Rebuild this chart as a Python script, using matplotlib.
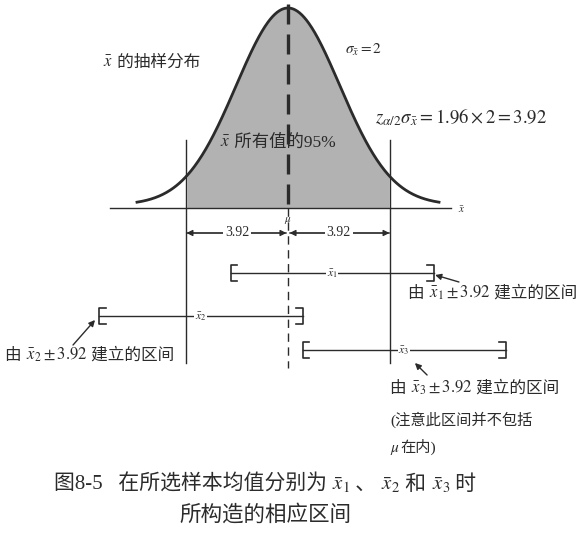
import numpy as np
import matplotlib
matplotlib.use('Agg')
import matplotlib.pyplot as plt
from matplotlib.offsetbox import TextArea, HPacker, AnnotationBbox

FAMILY = ['Liberation Serif', 'Noto Sans CJK SC', 'DejaVu Sans']
plt.rcParams['font.family'] = FAMILY
plt.rcParams['mathtext.fontset'] = 'stix'

# data
mu = 0.0
sigma_xbar = 2.0
z_half = 1.96
margin = z_half * sigma_xbar          # 3.92
sample_means = [1.70, -3.36, 4.48]    # x̄1, x̄2, x̄3
mean_labels = [r'$\bar{x}_1$', r'$\bar{x}_2$', r'$\bar{x}_3$']
interval_rows = [273, 316, 350]       # vertical rows (pixel-like, top = 0)

INK = '#2b2b2b'
FILL = '#b2b2b2'


def rich(ax, x, y, parts, size, ha=0.0):
    # mathtext pieces can't fall back to CJK fonts, so pack pieces side by side
    boxes = [TextArea(p, textprops=dict(fontsize=size, color=INK, family=FAMILY))
             for p in parts]
    pack = HPacker(children=boxes, align='baseline', pad=0, sep=0)
    ab = AnnotationBbox(pack, (x, y), xycoords='data', frameon=False,
                        box_alignment=(ha, 0.5), pad=0)
    ax.add_artist(ab)


fig = plt.figure(figsize=(5.87, 5.36), dpi=100)
ax = fig.add_axes([0, 0, 1, 1])
px = 25.9                              # pixels per unit of x
ax.set_xlim(-288 / px, (587 - 288) / px)
ax.set_ylim(536, 0)
ax.axis('off')

# normal curve of x̄
base, peak = 205, 197
xs = np.linspace(-5.83, 5.83, 400)
ys = base - peak * np.exp(-(xs - mu) ** 2 / (2 * sigma_xbar ** 2))
inside = np.abs(xs - mu) <= margin
ax.fill_between(xs[inside], ys[inside], 208, color=FILL, lw=0)
ax.plot(xs, ys, color=INK, lw=2)

# horizontal axis
ax.plot([-6.87, 6.29], [208, 208], color=INK, lw=1)
ax.text(6.55, 210, r'$\bar{x}$', fontsize=8, color=INK, va='center')

# mean line (dashed), heavier inside the curve
ax.plot([mu, mu], [4, 208], color=INK, lw=2.4, dashes=(6, 3))
ax.plot([mu, mu], [208, 368], color=INK, lw=1, dashes=(6, 4))
ax.text(mu, 220, r'$\mu$', fontsize=8, color=INK, ha='center', va='center')

# 95% limits
for s in (-1, 1):
    ax.plot([mu + s * margin] * 2, [140, 363], color=INK, lw=1)

# dimension arrows
arrow_kw = dict(arrowstyle='-|>', color=INK, lw=0.9, mutation_scale=9,
                shrinkA=0, shrinkB=0)
for s in (-1, 1):
    ax.annotate('', xy=(mu + s * margin, 233), xytext=(mu + s * 0.06, 233),
                arrowprops=arrow_kw)
    ax.annotate('', xy=(mu + s * 0.06, 233), xytext=(mu + s * margin, 233),
                arrowprops=arrow_kw)
    ax.text(mu + s * margin / 2, 233, f'{margin:.2f}', fontsize=10, color=INK,
            ha='center', va='center',
            bbox=dict(facecolor='white', edgecolor='none', pad=1.5))

# intervals x̄ ± 3.92
stub, h = 0.26, 8
for m, lab, row in zip(sample_means, mean_labels, interval_rows):
    lo, hi = m - margin, m + margin
    ax.plot([lo, hi], [row, row], color=INK, lw=1)
    ax.plot([lo + stub, lo, lo, lo + stub], [row - h, row - h, row + h, row + h],
            color=INK, lw=1.2)
    ax.plot([hi - stub, hi, hi, hi - stub], [row - h, row - h, row + h, row + h],
            color=INK, lw=1.2)
    ax.text(m, row + 1, lab, fontsize=8.5, color=INK, ha='center', va='center',
            bbox=dict(facecolor='white', edgecolor='none', pad=0.5))

# pointer arrows
ptr_kw = dict(arrowstyle='-|>', color=INK, lw=1, mutation_scale=9,
              shrinkA=0, shrinkB=0)
ax.annotate('', xy=(5.68, 275), xytext=(6.60, 282), arrowprops=ptr_kw)
ax.annotate('', xy=(-7.45, 320), xytext=(-8.30, 345), arrowprops=ptr_kw)
ax.annotate('', xy=(4.90, 363), xytext=(5.37, 375), arrowprops=ptr_kw)

# texts
rich(ax, -7.14, 63, [r'$\bar{x}$', ' 的抽样分布'], 12)
ax.text(2.20, 50, r'$\sigma_{\bar{x}}=2$', fontsize=11, color=INK, va='center')
ax.text(3.36, 117, r'$z_{\alpha/2}\sigma_{\bar{x}}=1.96\times2=3.92$',
        fontsize=13.5, color=INK, va='center')
rich(ax, -2.63, 143, [r'$\bar{x}$', ' 所有值的95%'], 12.5)

for i, (xx, yy) in enumerate([(4.63, 293), (-10.93, 355), (3.94, 388)]):
    rich(ax, xx, yy, ['由 ', r'$\bar{x}_%d\pm3.92$' % (i + 1), ' 建立的区间'], 12)
ax.text(3.94, 420, '(注意此区间并不包括', fontsize=11, color=INK, va='center')
rich(ax, 3.94, 448, [r'$\mu$', '在内)'], 11)

# caption
rich(ax, -0.89, 485,
     ['图8-5   在所选样本均值分别为 ', r'$\bar{x}_1$', ' 、 ', r'$\bar{x}_2$',
      ' 和 ', r'$\bar{x}_3$', ' 时'], 15, ha=0.5)
ax.text(-0.89, 515, '所构造的相应区间', fontsize=15.5, color=INK,
        ha='center', va='center')

fig.savefig('out.png', dpi=100)
